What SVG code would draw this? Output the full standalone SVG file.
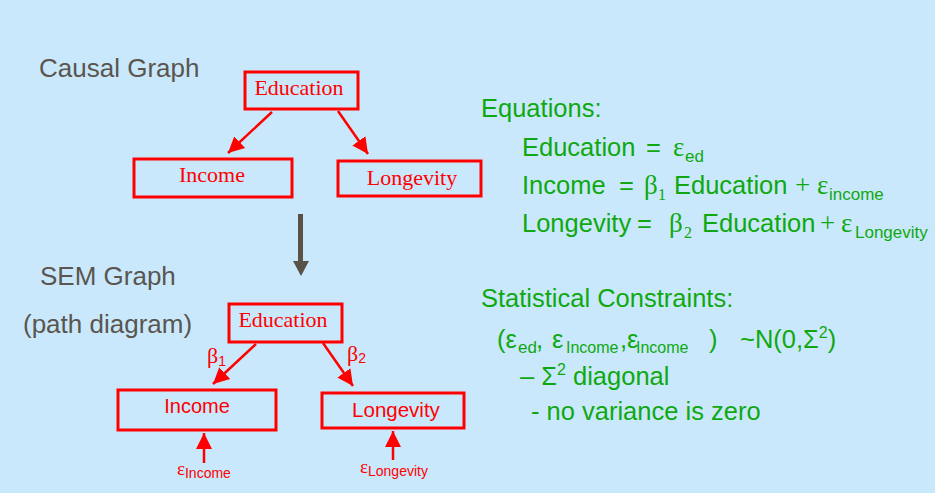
<svg xmlns="http://www.w3.org/2000/svg" width="935" height="493" viewBox="0 0 935 493">
<defs>
<marker id="ah" markerUnits="userSpaceOnUse" markerWidth="18" markerHeight="18" viewBox="0 0 18 18" refX="16" refY="9" orient="auto">
<path d="M0,1 L16,9 L0,17 Z" fill="#ff0000"/>
</marker>
<style>
.bx{fill:none;stroke:#ff0000;stroke-width:3}
.ed{stroke:#ff0000;stroke-width:2.5;fill:none}
.tr{font-family:"Liberation Serif",serif;font-size:22px;fill:#ff0000}
.sr{font-family:"Liberation Sans",Arial,sans-serif;fill:#ff0000}
.gr{font-family:"Liberation Sans",Arial,sans-serif;font-size:26px;fill:#5a554f}
.g{font-family:"Liberation Sans",Arial,sans-serif;font-size:25.5px;fill:#10a810}
.gs{font-family:"Liberation Serif",serif;font-size:27px;fill:#10a810}
.sub{font-family:"Liberation Sans",Arial,sans-serif;font-size:17px;fill:#10a810}
</style>
</defs>
<rect width="935" height="493" fill="#c9e8fc"/>

<text class="gr" x="39" y="77">Causal Graph</text>
<text class="gr" x="40" y="285">SEM Graph</text>
<text class="gr" x="23" y="333">(path diagram)</text>

<g id="connectors">
<line class="ed" x1="272" y1="112" x2="228" y2="153" marker-end="url(#ah)"/>
<line class="ed" x1="338" y1="111" x2="368" y2="154" marker-end="url(#ah)"/>
<line class="ed" x1="256" y1="344" x2="213" y2="384" marker-end="url(#ah)"/>
<line class="ed" x1="323" y1="343" x2="353" y2="386" marker-end="url(#ah)"/>
<line class="ed" x1="204" y1="463" x2="204" y2="433" marker-end="url(#ah)"/>
<line class="ed" x1="393" y1="460" x2="393" y2="431" marker-end="url(#ah)"/>
<g id="transform-arrow">
<rect x="298" y="214" width="5" height="48" fill="#5a5247"/>
<path d="M293,261 L309,261 L301,276 Z" fill="#5a5247"/>
</g>
</g>

<g id="causal-education">
<rect class="bx" x="245" y="72" width="113" height="37"/>
<text class="tr" x="299" y="95" text-anchor="middle">Education</text>
</g>
<g id="causal-income">
<rect class="bx" x="134" y="159" width="158" height="38"/>
<text class="tr" x="212" y="182" text-anchor="middle">Income</text>
</g>
<g id="causal-longevity">
<rect class="bx" x="338" y="161" width="143" height="35"/>
<text class="tr" x="412" y="185" text-anchor="middle">Longevity</text>
</g>

<g id="sem-education">
<rect class="bx" x="229" y="304" width="113" height="38"/>
<text class="tr" x="283" y="327" text-anchor="middle">Education</text>
</g>
<g id="sem-income">
<rect class="bx" x="118" y="390" width="158" height="40"/>
<text class="sr" style="font-size:20px" x="197" y="413" text-anchor="middle">Income</text>
</g>
<g id="sem-longevity">
<rect class="bx" x="322" y="393" width="142" height="35"/>
<text class="sr" style="font-size:20.5px" x="396" y="417" text-anchor="middle">Longevity</text>
</g>

<g id="labels">
<text x="207" y="363"><tspan class="tr">β</tspan><tspan class="sr" style="font-size:14px" dy="3">1</tspan></text>
<text x="347" y="361"><tspan class="tr">β</tspan><tspan class="sr" style="font-size:14px" dy="2">2</tspan></text>
<text x="177" y="475"><tspan class="tr" style="font-size:19px">ε</tspan><tspan class="sr" style="font-size:14px" dy="3">Income</tspan></text>
<text x="360" y="473"><tspan class="tr" style="font-size:19px">ε</tspan><tspan class="sr" style="font-size:14px" dy="3">Longevity</tspan></text>
</g>

<g id="equations">
<text class="g" x="481" y="117">Equations:</text>
<text class="g" x="522" y="156">Education</text>
<text class="g" x="646" y="156">=</text>
<text class="gs" x="673" y="156">ε</text>
<text class="sub" x="685" y="162">ed</text>

<text class="g" x="522" y="194">Income</text>
<text class="g" x="619" y="194">=</text>
<text class="gs" x="644" y="194">β</text>
<text class="gs" style="font-size:16px" x="658" y="200">1</text>
<text class="g" x="674" y="194">Education</text>
<text class="gs" x="795" y="194">+</text>
<text class="gs" x="817" y="194">ε</text>
<text class="sub" x="829" y="200">income</text>

<text class="g" x="522" y="232">Longevity</text>
<text class="g" x="637" y="232">=</text>
<text class="gs" x="669" y="232">β</text>
<text class="gs" style="font-size:16px" x="684" y="238">2</text>
<text class="g" x="702" y="232">Education</text>
<text class="gs" x="820" y="232">+</text>
<text class="gs" x="841" y="232">ε</text>
<text class="sub" x="855" y="238">Longevity</text>
</g>

<g id="constraints">
<text class="g" x="481" y="307">Statistical Constraints:</text>
<text class="g" x="497" y="348">(ε</text>
<text class="sub" x="518" y="353">ed</text>
<text class="g" x="536" y="348">,</text>
<text class="g" x="552" y="348">ε</text>
<text class="sub" style="font-size:16px" x="566" y="353">Income</text>
<text class="g" x="620" y="348">,ε</text>
<text class="sub" style="font-size:16px" x="636" y="353">Income</text>
<text class="g" x="709" y="348">)</text>
<text class="g" x="740" y="348">~N(0,Σ<tspan style="font-size:16px" dy="-10">2</tspan><tspan dy="10">)</tspan></text>
<text class="g" x="520" y="385">– Σ<tspan style="font-size:16px" dy="-10">2</tspan><tspan dy="10"> diagonal</tspan></text>
<text class="g" x="531" y="420">- no variance is zero</text>
</g>
</svg>
